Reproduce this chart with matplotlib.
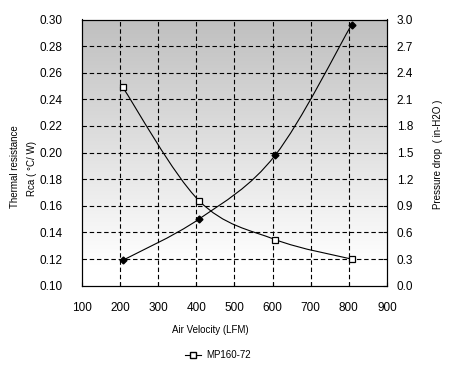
import numpy as np
import matplotlib.pyplot as plt
from matplotlib.path import Path
from matplotlib.patches import PathPatch
from matplotlib.lines import Line2D

plt.rcParams['font.family'] = ['Liberation Sans', 'DejaVu Sans']

# Data
air_velocity = [207, 407, 607, 807]
thermal_resistance = [0.119, 0.150, 0.198, 0.296]
pressure_drop = [2.24, 0.96, 0.52, 0.30]
x_ticks = [100, 200, 300, 400, 500, 600, 700, 800, 900]
left_ticks = [0.10, 0.12, 0.14, 0.16, 0.18, 0.20, 0.22, 0.24, 0.26, 0.28, 0.30]
right_ticks = [0.0, 0.3, 0.6, 0.9, 1.2, 1.5, 1.8, 2.1, 2.4, 2.7, 3.0]
series_name = 'MP160-72'


def smooth_path(ax, xs, ys, tension=1 / 6):
    # Excel-style smoothed line: Catmull-Rom segments as cubic Beziers in pixel space
    pts = ax.transData.transform(np.column_stack([xs, ys]))
    verts = [pts[0]]
    codes = [Path.MOVETO]
    n = len(pts)
    for i in range(n - 1):
        p0 = pts[i - 1] if i > 0 else pts[i]
        p1 = pts[i]
        p2 = pts[i + 1]
        p3 = pts[i + 2] if i + 2 < n else pts[i + 1]
        c1 = p1 + (p2 - p0) * tension
        c2 = p2 - (p3 - p1) * tension
        verts += [c1, c2, p2]
        codes += [Path.CURVE4] * 3
    return PathPatch(Path(verts, codes), transform=None, fill=False,
                     edgecolor='black', lw=0.8, zorder=3)


fig = plt.figure(figsize=(4.51, 3.69), dpi=100)
ax = fig.add_axes([81.7 / 451, 1 - 285.7 / 369, (387 - 81.7) / 451, (285.7 - 19.5) / 369])
ax2 = ax.twinx()

ax.set_xlim(100, 900)
ax.set_ylim(0.10, 0.30)
ax2.set_ylim(0.0, 3.0)

# gradient background: grey at the top fading to white near the bottom
t = np.linspace(0, 1, 256)  # 0 = bottom, 1 = top
shade = 1.0 - 0.25 * np.clip((t - 0.08) / 0.92, 0, 1)
img = np.repeat(shade.reshape(-1, 1, 1), 3, axis=2)
ax.imshow(img, extent=[0, 1, 0, 1], transform=ax.transAxes, aspect='auto',
          origin='lower', zorder=0)
ax.set_facecolor('white')

for x in x_ticks[1:-1]:
    ax.axvline(x, color='black', lw=0.8, ls=(0, (4, 2.5)), zorder=1)
for y in left_ticks[1:-1]:
    ax.axhline(y, color='black', lw=0.8, ls=(0, (4, 2.5)), zorder=1)

ax.set_xticks(x_ticks)
ax.set_xticklabels([str(v) for v in x_ticks])
ax.set_yticks(left_ticks)
ax.set_yticklabels(['%.2f' % v for v in left_ticks])
ax2.set_yticks(right_ticks)
ax2.set_yticklabels(['%.1f' % v for v in right_ticks])

ax.tick_params(axis='x', direction='in', length=3, pad=12, labelsize=8.5, width=0.8)
ax.tick_params(axis='y', length=0, pad=14, labelsize=8.5)
ax2.tick_params(axis='y', direction='in', length=3, pad=7, labelsize=8.5, width=0.8)
for a in (ax, ax2):
    for s in a.spines.values():
        s.set_linewidth(0.8)

fig.canvas.draw()
ax.add_patch(smooth_path(ax, air_velocity, thermal_resistance))
ax2.add_patch(smooth_path(ax2, air_velocity, pressure_drop))
ax.plot(air_velocity, thermal_resistance, ls='none', marker='D', ms=3.5,
        color='black', zorder=4)
ax2.plot(air_velocity, pressure_drop, ls='none', marker='s', ms=4.5,
         mfc='white', mec='black', mew=0.9, zorder=4)

fig.text(15 / 451, 1 - 167 / 369, 'Thermal resistance', rotation=90,
         ha='center', va='center', fontsize=7)
fig.text(32 / 451, 1 - 168 / 369, 'Rca ( \u00b0C/ W)', rotation=90,
         ha='center', va='center', fontsize=7)
fig.text(438 / 451, 1 - 154 / 369, 'Pressure drop  ( in-H2O )', rotation=90,
         ha='center', va='center', fontsize=7)
fig.text(210 / 451, 1 - 330 / 369, 'Air Velocity (LFM)', ha='center',
         va='center', fontsize=7)

handle = Line2D([], [], color='black', lw=0.8, marker='s', ms=4.5,
                mfc='white', mec='black')
fig.legend([handle], [series_name], loc='center', bbox_to_anchor=(218 / 451, 1 - 355 / 369),
           frameon=False, fontsize=7, handlelength=1.6, handletextpad=0.5)

fig.savefig('out.png', dpi=100)
